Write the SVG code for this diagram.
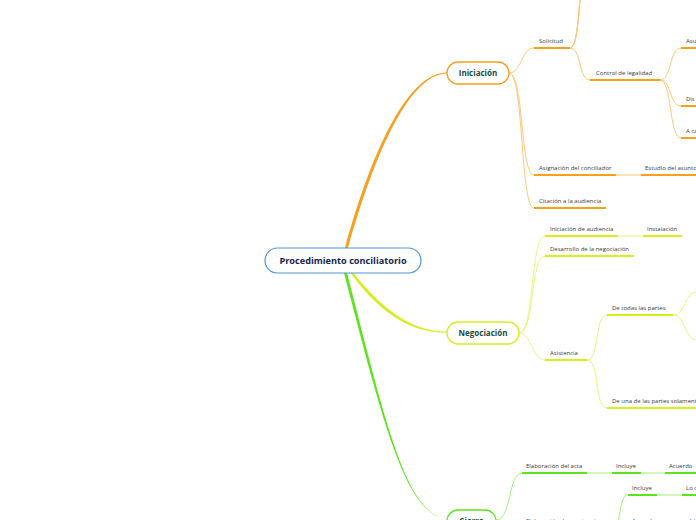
<svg xmlns="http://www.w3.org/2000/svg" width="696" height="520" viewBox="0 0 696 520">
<style>
.t{font-family:"Open Sans","Noto Sans","Liberation Sans",sans-serif;font-size:6px;fill:#3a3a3a}
.m{font-family:"Open Sans","Noto Sans","Liberation Sans",sans-serif;font-size:8px;font-weight:bold;fill:#1b4a3a;text-anchor:middle}
.c{font-family:"Open Sans","Noto Sans","Liberation Sans",sans-serif;font-size:9.2px;font-weight:bold;fill:#17254f;text-anchor:middle}
.lo{fill:none;stroke:#fcc878;stroke-width:1}
.ly{fill:none;stroke:#e6f77e;stroke-width:1}
.lg{fill:none;stroke:#a4f07c;stroke-width:1}
.uo{stroke:#f8a01a;stroke-width:2}
.uy{stroke:#d4f01a;stroke-width:2}
.ug{stroke:#5ee41e;stroke-width:2}
</style>
<rect width="696" height="520" fill="#ffffff"/>
<g id="connectors">
<path d="M345,248 C372,150 408,72.5 447,72.5 L447,73.5 C410,73.5 375,152 348,248 Z" fill="#f7a01c"/>
<path d="M353.5,273 C386,314 415,331.6 447,331.6 L447,332.6 C414,333 383,317 350.5,273 Z" fill="#d2ef1c"/>
<path d="M344,273 C380,410 405,518 447,518 C405,517 382.5,409 347,273 Z" fill="#5ee41e"/>
<path class="lo" d="M509,73 C522,73 521,48 534,48"/>
<path class="lo" d="M509,73 C524,73 520,175 534,175"/>
<path class="lo" d="M509,73 C524,73 520,208 534,208"/>
<path class="lo" d="M570,48 C581,48 576,-20 590,-40"/>
<path class="lo" d="M570,48 C582,48 577,-40 592,-70"/>
<path class="lo" d="M570,48 C583,48 578,-60 594,-100"/>
<path class="lo" d="M570,48 C582,48 578,80 590,80"/>
<path class="lo" d="M660,80 C672,80 669,48 681,48"/>
<path class="lo" d="M660,80 C672,80 669,106 681,106"/>
<path class="lo" d="M660,80 C672,80 669,138 681,138"/>
<path class="lo" d="M616,175 L641,175"/>
<path class="ly" d="M519,333 C535,333 530,236 545,236"/>
<path class="ly" d="M519,333 C535,333 530,256 545,256"/>
<path class="ly" d="M519,333 C532,333 532,360 545,360"/>
<path class="ly" d="M618,236 L643,236"/>
<path class="ly" d="M587,360 C600,360 594,315 607,315"/>
<path class="ly" d="M587,360 C600,360 594,408 607,408"/>
<path class="ly" d="M673,315 C686,315 684,292 697,292"/>
<path class="ly" d="M673,315 C686,315 684,340 697,340"/>
<path class="lg" d="M496,520 C512,520 508,473 522,473"/>
<path class="lg" d="M496,520 C510,520 510,528 522,528"/>
<path class="lg" d="M587,473 L612,473"/>
<path class="lg" d="M641,473 L665,473"/>
<path class="lg" d="M612,528 C622,528 618,495 628,495"/>
<path class="lg" d="M612,528 L628,528"/>
<path class="lg" d="M657,495 L682,495"/>
</g>
<g id="central">
<rect x="265" y="248" width="156" height="25" rx="12.5" fill="#ffffff" stroke="#4b98dc" stroke-width="1.2"/>
<text class="c" x="343" y="264.3">Procedimiento conciliatorio</text>
</g>
<g id="iniciacion">
<rect x="447" y="62" width="62" height="22" rx="11" fill="#ffffff" stroke="#f8a01c" stroke-width="1.3"/>
<text class="m" x="478" y="75.8">Iniciación</text>
</g>
<g id="negociacion">
<rect x="447" y="322" width="72" height="22" rx="11" fill="#ffffff" stroke="#d4f01c" stroke-width="1.3"/>
<text class="m" x="483" y="335.8">Negociación</text>
</g>
<g id="cierre">
<rect x="447" y="510" width="49" height="22" rx="11" fill="#ffffff" stroke="#5ee41e" stroke-width="1.3"/>
<text class="m" x="471.5" y="523.8">Cierre</text>
</g>
<g id="solicitud"><text class="t" x="539" y="43">Solicitud</text><line class="uo" x1="534" y1="48" x2="570" y2="48"/></g>
<g id="control"><text class="t" x="596" y="75">Control de legalidad</text><line class="uo" x1="590" y1="80" x2="660" y2="80"/></g>
<g id="asu"><text class="t" x="686" y="43">Asu</text><line class="uo" x1="681" y1="48" x2="697" y2="48"/></g>
<g id="dis"><text class="t" x="686" y="100.5">Dis</text><line class="uo" x1="681" y1="106" x2="697" y2="106"/></g>
<g id="aca"><text class="t" x="686" y="133">A ca</text><line class="uo" x1="681" y1="138" x2="697" y2="138"/></g>
<g id="asignacion"><text class="t" x="539" y="170">Asignación del conciliador</text><line class="uo" x1="534" y1="175" x2="616" y2="175"/></g>
<g id="estudio"><text class="t" x="645" y="170">Estudio del asunto</text><line class="uo" x1="641" y1="175" x2="697" y2="175"/></g>
<g id="citacion"><text class="t" x="539" y="203">Citación a la audiencia</text><line class="uo" x1="534" y1="208" x2="606" y2="208"/></g>
<g id="iniaudiencia"><text class="t" x="550" y="230.5">Iniciación de audiencia</text><line class="uy" x1="545" y1="236" x2="618" y2="236"/></g>
<g id="instalacion"><text class="t" x="647" y="230.5">Instalación</text><line class="uy" x1="643" y1="236" x2="682" y2="236"/></g>
<g id="desarrollo"><text class="t" x="550" y="250.5">Desarrollo de la negociación</text><line class="uy" x1="545" y1="256" x2="634" y2="256"/></g>
<g id="asistencia"><text class="t" x="550" y="355">Asistencia</text><line class="uy" x1="545" y1="360" x2="587" y2="360"/></g>
<g id="todas"><text class="t" x="612" y="310">De todas las partes</text><line class="uy" x1="607" y1="315" x2="673" y2="315"/></g>
<g id="una"><text class="t" x="612" y="403">De una de las partes solamente</text><line class="uy" x1="607" y1="408" x2="697" y2="408"/></g>
<g id="acta"><text class="t" x="526" y="468">Elaboración del acta</text><line class="ug" x1="522" y1="473" x2="587" y2="473"/></g>
<g id="incluye1"><text class="t" x="616" y="468">Incluye</text><line class="ug" x1="612" y1="473" x2="641" y2="473"/></g>
<g id="acuerdo"><text class="t" x="669" y="468">Acuerdo</text><line class="ug" x1="665" y1="473" x2="697" y2="473"/></g>
<g id="incluye2"><text class="t" x="632" y="490">Incluye</text><line class="ug" x1="628" y1="495" x2="657" y2="495"/></g>
<g id="loc"><text class="t" x="686" y="490">Lo c</text><line class="ug" x1="682" y1="495" x2="697" y2="495"/></g>
<g id="constancia"><text class="t" x="526" y="523">Elaboración de constancia</text><line class="ug" x1="522" y1="528" x2="612" y2="528"/></g>
<g id="nocumplio"><text class="t" x="632" y="523">Acuerdo no se cumplió</text><line class="ug" x1="628" y1="528" x2="697" y2="528"/></g>
</svg>
